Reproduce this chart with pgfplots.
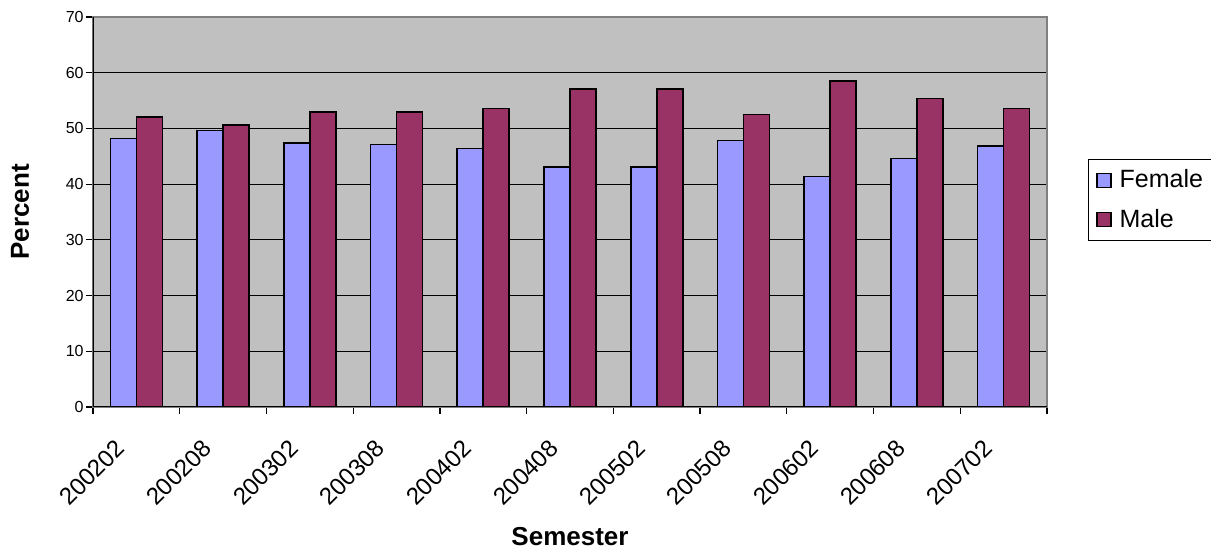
\documentclass[border=0pt]{standalone}
\usepackage{pgfplots}
\pgfplotsset{compat=1.18}
\usepackage{fontspec}
\setmainfont{Liberation Sans}
\definecolor{fem}{HTML}{9999FF}
\definecolor{mal}{HTML}{993366}
\definecolor{bg}{HTML}{C0C0C0}
\begin{document}
\begin{tikzpicture}
\useasboundingbox (-46.5pt,-71.5pt) rectangle (559pt,203.5pt);
\begin{axis}[
  at={(0,0)}, anchor=south west,
  scale only axis, width=477pt, height=195pt,
  xmin=-0.5, xmax=10.5, ymin=0, ymax=70,
  ybar=0pt, bar width=13pt,
  axis background/.style={fill=bg},
  axis line style={draw=gray, line width=0.6pt},
  ytick={0,10,...,70},
  ymajorgrids, major grid style={black, line width=0.6pt},
  tick align=outside, major tick length=3.5pt,
  tick style={black, line width=0.6pt},
  xtick pos=bottom, ytick pos=left,
  xtick={-0.5,0.5,...,10.5}, xticklabels={},
  extra x ticks={0,...,10},
  extra x tick labels={200202,200208,200302,200308,200402,200408,200502,200508,200602,200608,200702},
  extra x tick style={grid=none, xtick style={draw=none},
    xticklabel style={xshift=-11pt, yshift=-10.5pt, rotate=45, anchor=north east, font=\fontsize{12}{12}\selectfont, inner sep=1pt}},
  /pgf/number format/assume math mode=true,
  yticklabel style={font=\fontsize{8}{9}\selectfont, inner sep=1pt},
  xlabel={\textbf{Semester}},
  xlabel style={at={(axis description cs:0.5,0)}, anchor=base, yshift=-69.5pt, font=\fontsize{13}{13}\selectfont},
  ylabel={\textbf{Percent}},
  ylabel style={at={(axis description cs:-0.0765,0.5)}, anchor=center, font=\fontsize{13}{13}\selectfont},
  legend style={at={(1.043,0.531)}, anchor=west, draw=black, fill=white,
    font=\fontsize{12.5}{14}\selectfont, row sep=5pt, inner xsep=4pt, inner ysep=3pt,
    /tikz/every odd column/.style={column sep=2pt}},
  legend cell align=left,
  legend image code/.code={\draw[#1, line width=0.6pt] (0pt,-3.5pt) rectangle (7pt,3.5pt);},
]
\addplot[fill=fem, draw=black, line width=0.8pt] coordinates {
(0,48.2) (1,49.6) (2,47.4) (3,47.1) (4,46.4) (5,43.1) (6,43.1) (7,47.8) (8,41.4) (9,44.6) (10,46.8)};
\addplot[fill=mal, draw=black, line width=0.8pt] coordinates {
(0,52.1) (1,50.6) (2,52.9) (3,52.9) (4,53.6) (5,57.1) (6,57.1) (7,52.5) (8,58.5) (9,55.4) (10,53.6)};
\legend{Female,Male}
\draw[black, line width=0.7pt] (rel axis cs:0,1) -- (rel axis cs:0,0) -- (rel axis cs:1,0);
\end{axis}
\end{tikzpicture}
\end{document}
